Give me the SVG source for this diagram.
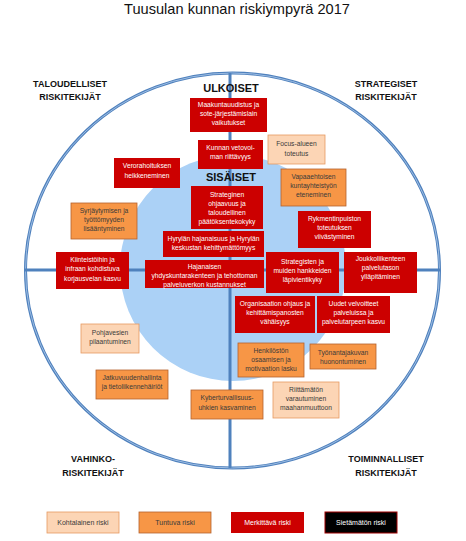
<svg xmlns="http://www.w3.org/2000/svg" width="466" height="541" viewBox="0 0 466 541">
<style>
text{font-family:"Liberation Sans",Arial,sans-serif;text-anchor:middle}
.t{font-size:6.7px}
.w{fill:#ffffff}
.d{fill:#3a3a3a}
.h{font-size:9px;font-weight:bold;fill:#111}
.hc{font-size:11px;font-weight:bold;fill:#111}
.red{fill:#cc0000}
.ora{fill:#f79646;stroke:#b5622d;stroke-width:0.8}
.pea{fill:#fcd5b5;stroke:#e59a62;stroke-width:0.8}
.blk{fill:#000;stroke:#a00000;stroke-width:1}
.ln{stroke:#4f81bd;stroke-width:3;fill:none}
</style>
<rect width="466" height="541" fill="#ffffff"/>
<text x="237" y="14" style="font-size:14.6px;fill:#111">Tuusulan kunnan riskiympyrä 2017</text>

<g id="background">
<circle cx="233" cy="268" r="113" fill="#abd1f6"/>
</g>
<g id="connectors">
<ellipse class="ln" cx="232.5" cy="270.5" rx="207" ry="197.5" stroke-width="3.5"/>
<ellipse cx="232.5" cy="270.5" rx="207" ry="197.5" fill="none" stroke="#9dbde3" stroke-width="1"/>
<line class="ln" x1="230" y1="73" x2="230" y2="468"/>
<line class="ln" x1="25" y1="270" x2="440" y2="270"/>
</g>

<g id="labels">
<text class="h" x="70" y="87">TALOUDELLISET</text>
<text class="h" x="70" y="100">RISKITEKIJÄT</text>
<text class="h" x="386" y="87">STRATEGISET</text>
<text class="h" x="386" y="100">RISKITEKIJÄT</text>
<text class="hc" x="231" y="92">ULKOISET</text>
<text class="hc" x="231" y="181">SISÄISET</text>
<text class="h" x="93" y="462">VAHINKO-</text>
<text class="h" x="93" y="476">RISKITEKIJÄT</text>
<text class="h" x="386" y="462">TOIMINNALLISET</text>
<text class="h" x="386" y="476">RISKITEKIJÄT</text>
</g>

<g id="n-maakunta"><rect class="red" x="190" y="98" width="77" height="34"/>
<text class="t w" x="228.5" y="107">Maakuntauudistus ja</text><text class="t w" x="228.5" y="116">sote-järjestämislain</text><text class="t w" x="228.5" y="125">vaikutukset</text></g>

<g id="n-vetovoima"><rect class="red" x="198" y="140" width="65" height="29"/>
<text class="t w" x="230.5" y="150">Kunnan vetovoi-</text><text class="t w" x="230.5" y="159">man riittävyys</text></g>

<g id="n-focus"><rect class="pea" x="268" y="135" width="57" height="29"/>
<text class="t d" x="296.5" y="146">Focus-alueen</text><text class="t d" x="296.5" y="156">toteutus</text></g>

<g id="n-vero"><rect class="red" x="114" y="158" width="66" height="30"/>
<text class="t w" x="147" y="168">Verorahoituksen</text><text class="t w" x="147" y="178">heikkeneminen</text></g>

<g id="n-vapaa"><rect class="ora" x="281" y="169" width="65" height="37"/>
<text class="t d" x="313.5" y="179">Vapaaehtoisen</text><text class="t d" x="313.5" y="188">kuntayhteistyön</text><text class="t d" x="313.5" y="197">eteneminen</text></g>

<g id="n-strateginen"><rect class="red" x="191" y="186" width="72" height="43"/>
<text class="t w" x="227" y="197">Strateginen</text><text class="t w" x="227" y="206">ohjaavuus ja</text><text class="t w" x="227" y="215">taloudellinen</text><text class="t w" x="227" y="224">päätöksentekokyky</text></g>

<g id="n-syrjaytyminen"><rect class="ora" x="71" y="203" width="66" height="36"/>
<text class="t d" x="104" y="213">Syrjäytymisen ja</text><text class="t d" x="104" y="222">työttömyyden</text><text class="t d" x="104" y="231">lisääntyminen</text></g>

<g id="n-rykmentti"><rect class="red" x="298" y="211" width="73" height="37"/>
<text class="t w" x="334.5" y="221">Rykmentinpuiston</text><text class="t w" x="334.5" y="230">toteutuksen</text><text class="t w" x="334.5" y="239">viivästyminen</text></g>

<g id="n-hyryla"><rect class="red" x="163" y="231" width="101" height="26"/>
<text class="t w" x="213.5" y="241">Hyrylän hajanaisuus ja Hyrylän</text><text class="t w" x="213.5" y="250">keskustan kehittymättömyys</text></g>

<g id="n-kiinteisto"><rect class="red" x="56" y="252" width="73" height="37"/>
<text class="t w" x="92.5" y="262">Kiinteistöihin ja</text><text class="t w" x="92.5" y="271">infraan kohdistuva</text><text class="t w" x="92.5" y="281">korjausvelan kasvu</text></g>

<g id="n-hajanaisen"><rect class="red" x="145" y="260" width="119" height="28"/>
<text class="t w" x="204.5" y="269">Hajanaisen</text><text class="t w" x="204.5" y="278">yhdyskuntarakenteen ja tehottoman</text><text class="t w" x="204.5" y="287">palveluverkon kustannukset</text></g>

<g id="n-hankkeet"><rect class="red" x="266" y="252" width="73" height="41"/>
<text class="t w" x="302.5" y="264">Strategisten ja</text><text class="t w" x="302.5" y="273">muiden hankkeiden</text><text class="t w" x="302.5" y="282">läpivientikyky</text></g>

<g id="n-joukkoliikenne"><rect class="red" x="344" y="252" width="73" height="41"/>
<text class="t w" x="380.5" y="261">Joukkoliikenteen</text><text class="t w" x="380.5" y="270">palvelutason</text><text class="t w" x="380.5" y="279">ylläpitäminen</text></g>

<g id="n-organisaatio"><rect class="red" x="235" y="296" width="80" height="37"/>
<text class="t w" x="275" y="306">Organisaation ohjaus ja</text><text class="t w" x="275" y="315">kehittämispanosten</text><text class="t w" x="275" y="324">vähäisyys</text></g>

<g id="n-velvoitteet"><rect class="red" x="317" y="296" width="73" height="37"/>
<text class="t w" x="353.5" y="306">Uudet velvoitteet</text><text class="t w" x="353.5" y="315">palveluissa ja</text><text class="t w" x="353.5" y="324">palvelutarpeen kasvu</text></g>

<g id="n-pohjavesi"><rect class="pea" x="81" y="324" width="58" height="29"/>
<text class="t d" x="110" y="335">Pohjavesien</text><text class="t d" x="110" y="344">pilaantuminen</text></g>

<g id="n-henkilosto"><rect class="ora" x="238" y="343" width="66" height="34"/>
<text class="t d" x="271" y="353">Henkilöstön</text><text class="t d" x="271" y="362">osaamisen ja</text><text class="t d" x="271" y="371">motivaation lasku</text></g>

<g id="n-tyonantaja"><rect class="ora" x="310" y="344" width="66" height="25"/>
<text class="t d" x="343" y="355">Työnantajakuvan</text><text class="t d" x="343" y="364">huonontuminen</text></g>

<g id="n-jatkuvuus"><rect class="ora" x="96" y="370" width="72" height="29"/>
<text class="t d" x="132" y="380">Jatkuvuudenhallinta</text><text class="t d" x="132" y="389">ja tietoliikennehäiriöt</text></g>

<g id="n-maahanmuutto"><rect class="pea" x="273" y="382" width="66" height="36"/>
<text class="t d" x="306" y="392">Riittämätön</text><text class="t d" x="306" y="401">varautuminen</text><text class="t d" x="306" y="410">maahanmuuttoon</text></g>

<g id="n-kyber"><rect class="ora" x="191" y="390" width="72" height="29"/>
<text class="t d" x="227" y="400">Kyberturvallisuus-</text><text class="t d" x="227" y="410">uhkien kasvaminen</text></g>

<g id="legend">
<g id="l-kohtalainen"><rect class="pea" x="47" y="512" width="72" height="21"/><text class="t d" x="83" y="525" style="font-size:7px">Kohtalainen riski</text></g>
<g id="l-tuntuva"><rect class="ora" x="139" y="512" width="72" height="21"/><text class="t d" x="175" y="525" style="font-size:7px">Tuntuva riski</text></g>
<g id="l-merkittava"><rect class="red" x="231" y="512" width="73" height="21"/><text class="t w" x="267.5" y="525" style="font-size:7px">Merkittävä riski</text></g>
<g id="l-sietamaton"><rect class="blk" x="325" y="512" width="72" height="21"/><text class="t w" x="361" y="525" style="font-size:7px">Sietämätön riski</text></g>
</g>
</svg>
